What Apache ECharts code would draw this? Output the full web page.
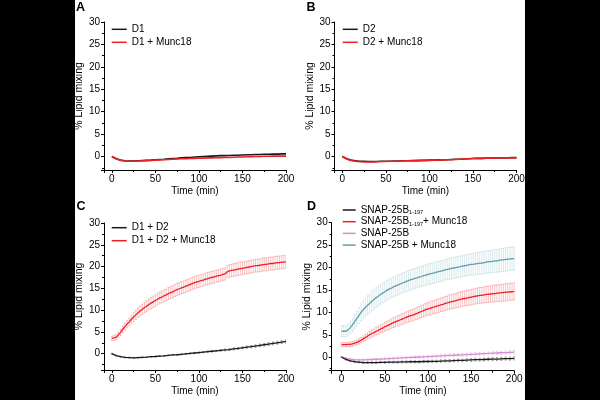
<!DOCTYPE html>
<html><head><meta charset="utf-8">
<script src="https://cdn.jsdelivr.net/npm/echarts@6/dist/echarts.min.js"></script>
<style>html,body{margin:0;padding:0;background:#000;}#c{position:absolute;left:0;top:0;width:600px;height:400px;}</style>
</head><body><div id="c"></div>
<script>
// time points (min)
const t5 = [0,5,10,15,20,25,30,35,40,45,50,55,60,65,70,75,80,85,90,95,100,105,110,115,120,125,130,135,140,145,150,155,160,165,170,175,180,185,190,195,200];
const t25 = [0,2.5,5,7.5,10,12.5,15,17.5,20,22.5,25,27.5,30,32.5,35,37.5,40,42.5,45,47.5,50,52.5,55,57.5,60,62.5,65,67.5,70,72.5,75,77.5,80,82.5,85,87.5,90,92.5,95,97.5,100,102.5,105,107.5,110,112.5,115,117.5,120,122.5,125,127.5,130,132.5,135,137.5,140,142.5,145,147.5,150,152.5,155,157.5,160,162.5,165,167.5,170,172.5,175,177.5,180,182.5,185,187.5,190,192.5,195,197.5,200];

// Panel A
const aD1 = [0,-0.5,-0.8,-0.95,-1.0,-1.0,-0.95,-0.9,-0.85,-0.8,-0.7,-0.65,-0.6,-0.5,-0.45,-0.4,-0.3,-0.25,-0.2,-0.1,-0.05,0,0.05,0.1,0.15,0.2,0.2,0.25,0.3,0.3,0.35,0.4,0.4,0.45,0.45,0.5,0.5,0.55,0.55,0.6,0.6];
const aD1M = [0,-0.5,-0.85,-1.0,-1.05,-1.05,-1.0,-0.95,-0.9,-0.85,-0.8,-0.75,-0.7,-0.65,-0.6,-0.55,-0.5,-0.5,-0.45,-0.4,-0.35,-0.35,-0.3,-0.3,-0.25,-0.25,-0.2,-0.2,-0.15,-0.1,-0.1,-0.05,-0.05,0,0,0.05,0.05,0.1,0.1,0.1,0.1];
// Panel B
const bD2 = [0,-0.5,-0.8,-0.95,-1.05,-1.05,-1.1,-1.1,-1.1,-1.05,-1.05,-1.05,-1.0,-1.0,-0.95,-0.95,-0.9,-0.9,-0.85,-0.85,-0.8,-0.8,-0.75,-0.75,-0.7,-0.65,-0.6,-0.6,-0.55,-0.5,-0.45,-0.4,-0.4,-0.35,-0.35,-0.3,-0.3,-0.3,-0.3,-0.25,-0.25];
const bD2M = [0,-0.55,-0.9,-1.05,-1.15,-1.2,-1.2,-1.2,-1.15,-1.1,-1.1,-1.05,-1.05,-1.0,-1.0,-0.95,-0.95,-0.9,-0.9,-0.85,-0.85,-0.8,-0.8,-0.75,-0.7,-0.7,-0.65,-0.6,-0.55,-0.5,-0.45,-0.4,-0.4,-0.35,-0.35,-0.35,-0.3,-0.3,-0.3,-0.3,-0.3];
// Panel C
const cD1D2 = [0,-0.45,-0.7,-0.85,-0.9,-0.95,-0.9,-0.85,-0.8,-0.7,-0.65,-0.55,-0.5,-0.4,-0.3,-0.25,-0.15,-0.05,0.05,0.15,0.25,0.35,0.45,0.55,0.65,0.75,0.85,0.95,1.1,1.2,1.35,1.5,1.6,1.75,1.9,2.05,2.2,2.35,2.5,2.65,2.8];
const cD1D2Err = [0.1,0.1,0.1,0.1,0.1,0.1,0.1,0.1,0.1,0.1,0.1,0.1,0.1,0.1,0.1,0.1,0.1,0.12,0.12,0.14,0.15,0.16,0.17,0.18,0.19,0.2,0.21,0.22,0.23,0.24,0.25,0.26,0.27,0.28,0.29,0.3,0.31,0.32,0.33,0.34,0.35];
const cD1D2M = [3.5,3.6,3.8,4.3,4.9,5.6,6.2,6.8,7.3,7.9,8.4,8.9,9.4,9.8,10.2,10.6,10.9,11.3,11.6,11.9,12.2,12.5,12.8,13.0,13.3,13.5,13.8,14.0,14.2,14.5,14.7,14.9,15.1,15.3,15.5,15.7,15.9,16.1,16.3,16.5,16.6,16.8,16.9,17.1,17.2,17.4,17.5,17.6,17.8,17.9,18.0,18.2,18.3,18.8,19.0,19.1,19.2,19.3,19.4,19.5,19.6,19.7,19.8,19.9,20.0,20.1,20.2,20.2,20.3,20.4,20.5,20.5,20.6,20.7,20.7,20.8,20.9,20.9,21.0,21.0,21.1];
const cD1D2MErr = [0.5,0.55,0.6,0.65,0.7,0.75,0.8,0.85,0.9,0.95,1.0,1.05,1.1,1.15,1.2,1.2,1.25,1.25,1.3,1.3,1.3,1.3,1.35,1.35,1.35,1.35,1.4,1.4,1.4,1.4,1.4,1.4,1.4,1.4,1.4,1.4,1.4,1.4,1.4,1.4,1.4,1.4,1.4,1.4,1.4,1.4,1.4,1.4,1.4,1.4,1.4,1.4,1.4,1.4,1.45,1.45,1.45,1.45,1.45,1.45,1.45,1.45,1.45,1.45,1.45,1.45,1.45,1.45,1.45,1.45,1.5,1.5,1.5,1.5,1.5,1.5,1.5,1.5,1.5,1.5,1.5];
// Panel D
const dS197 = [0,-0.5,-0.8,-1.0,-1.1,-1.2,-1.2,-1.2,-1.2,-1.15,-1.15,-1.1,-1.1,-1.1,-1.05,-1.05,-1.0,-1.0,-1.0,-0.95,-0.95,-0.9,-0.9,-0.85,-0.8,-0.8,-0.75,-0.7,-0.7,-0.65,-0.6,-0.55,-0.55,-0.5,-0.45,-0.4,-0.4,-0.35,-0.3,-0.3,-0.25];
const dS197Err = [0.1,0.12,0.14,0.15,0.16,0.17,0.18,0.18,0.19,0.2,0.2,0.21,0.22,0.22,0.23,0.24,0.24,0.25,0.25,0.26,0.26,0.27,0.27,0.28,0.28,0.29,0.29,0.3,0.3,0.31,0.31,0.32,0.32,0.33,0.33,0.34,0.34,0.35,0.35,0.35,0.35];
const dS197M = [2.8,2.8,2.8,2.85,2.9,3.0,3.15,3.3,3.55,3.8,4.1,4.4,4.7,5.0,5.3,5.5,5.8,6.0,6.3,6.5,6.8,7.0,7.2,7.5,7.7,7.9,8.1,8.3,8.5,8.7,8.9,9.1,9.3,9.4,9.6,9.8,10.0,10.2,10.4,10.6,10.8,10.9,11.1,11.2,11.4,11.5,11.7,11.8,12.0,12.1,12.3,12.4,12.5,12.6,12.8,12.9,13.0,13.1,13.2,13.3,13.4,13.5,13.6,13.7,13.8,13.8,13.9,14.0,14.0,14.1,14.2,14.2,14.3,14.3,14.4,14.4,14.5,14.5,14.6,14.6,14.7];
const dS197MErr = [0.45,0.45,0.45,0.45,0.5,0.5,0.5,0.55,0.6,0.6,0.65,0.7,0.7,0.75,0.8,0.8,0.85,0.9,0.9,0.95,1.0,1.0,1.05,1.05,1.1,1.1,1.15,1.15,1.2,1.2,1.25,1.25,1.3,1.3,1.3,1.35,1.35,1.35,1.4,1.4,1.4,1.45,1.45,1.45,1.5,1.5,1.5,1.55,1.55,1.55,1.6,1.6,1.6,1.6,1.65,1.65,1.65,1.65,1.7,1.7,1.7,1.7,1.75,1.75,1.75,1.75,1.8,1.8,1.8,1.8,1.85,1.85,1.85,1.85,1.9,1.9,1.9,1.9,1.9,1.9,1.9];
const dS25B = [0.1,-0.2,-0.4,-0.55,-0.6,-0.6,-0.55,-0.5,-0.45,-0.4,-0.35,-0.3,-0.25,-0.2,-0.15,-0.1,-0.05,0,0.05,0.1,0.15,0.2,0.25,0.3,0.35,0.4,0.45,0.5,0.55,0.6,0.65,0.7,0.75,0.8,0.85,0.9,0.95,1.0,1.05,1.1,1.15];
const dS25BErr = [0.15,0.15,0.15,0.16,0.17,0.18,0.19,0.2,0.2,0.21,0.22,0.22,0.23,0.24,0.24,0.25,0.26,0.26,0.27,0.27,0.28,0.28,0.29,0.29,0.3,0.3,0.31,0.31,0.32,0.32,0.33,0.33,0.33,0.34,0.34,0.34,0.35,0.35,0.35,0.35,0.35];
const dS25BM = [5.8,5.8,5.8,6.1,6.6,7.2,7.9,8.6,9.3,10.0,10.6,11.1,11.6,12.0,12.5,12.9,13.3,13.6,14.0,14.3,14.6,14.9,15.2,15.4,15.7,15.9,16.1,16.3,16.5,16.7,16.9,17.1,17.3,17.4,17.6,17.7,17.9,18.0,18.2,18.3,18.5,18.6,18.7,18.8,19.0,19.1,19.2,19.3,19.5,19.6,19.7,19.8,19.9,20.0,20.1,20.2,20.3,20.4,20.5,20.6,20.7,20.7,20.8,20.9,21.0,21.0,21.1,21.2,21.3,21.3,21.4,21.5,21.5,21.6,21.7,21.7,21.8,21.9,21.9,22.0,22.0];
const dS25BMErr = [1.2,1.2,1.2,1.3,1.4,1.5,1.6,1.7,1.8,1.9,2.0,2.0,2.1,2.1,2.2,2.2,2.2,2.2,2.2,2.2,2.2,2.2,2.2,2.2,2.2,2.2,2.2,2.2,2.2,2.2,2.25,2.25,2.25,2.25,2.25,2.25,2.25,2.25,2.25,2.25,2.3,2.3,2.3,2.3,2.3,2.3,2.3,2.3,2.3,2.3,2.35,2.35,2.35,2.35,2.35,2.35,2.35,2.35,2.35,2.35,2.4,2.4,2.45,2.45,2.45,2.5,2.5,2.5,2.5,2.5,2.55,2.55,2.55,2.55,2.6,2.6,2.6,2.6,2.6,2.6,2.6];

// tick labels
const xTicks = [0,50,100,150,200];
const yTicks = [0,5,10,15,20,25,30];

const FONT = 'Liberation Sans, Arial, sans-serif';
const RED = '#ee1f25', BLACK = '#1a1a1a', TEAL = '#5f9fae', PINK = '#d98bd3';

const chart = echarts.init(document.getElementById('c'), null, {renderer: 'canvas'});

const grids = [
  {left: 104, top: 22, width: 182, height: 148},
  {left: 334.5, top: 22, width: 182, height: 148},
  {left: 104, top: 223, width: 182, height: 147},
  {left: 331.7, top: 222.7, width: 182.5, height: 148}
];
const xMins = [-9, -9, -9, -11.5];
const yMins = [-3, -3, -3.75, -3];
const yNameGaps = [18.5, 19, 18.5, 17];

function xAxis(i) {
  return {
    type: 'value', gridIndex: i, min: xMins[i], max: 200, splitNumber: 4,
    name: 'Time (min)', nameLocation: 'middle', nameGap: 16,
    nameTextStyle: {fontFamily: FONT, fontSize: 10, color: '#000'},
    axisLine: {show: true, onZero: false, lineStyle: {color: '#000', width: 1}},
    axisTick: {show: true, length: 3, lineStyle: {color: '#000'}},
    minorTick: {show: true, splitNumber: 2, length: 2, lineStyle: {color: '#000'}},
    axisLabel: {fontFamily: FONT, fontSize: 10, color: '#000', margin: 4,
      formatter: v => xTicks.includes(v) ? String(v) : ''},
    splitLine: {show: false}, minorSplitLine: {show: false}
  };
}
function yAxis(i) {
  return {
    type: 'value', gridIndex: i, min: yMins[i], max: 30, splitNumber: 7,
    name: '% Lipid mixing', nameLocation: 'middle', nameGap: yNameGaps[i],
    nameTextStyle: {fontFamily: FONT, fontSize: 10.5, color: '#000'},
    axisLine: {show: true, onZero: false, lineStyle: {color: '#000', width: 1}},
    axisTick: {show: true, length: 3, lineStyle: {color: '#000'}},
    minorTick: {show: true, splitNumber: 2, length: 2, lineStyle: {color: '#000'}},
    axisLabel: {fontFamily: FONT, fontSize: 10, color: '#000', margin: 4,
      formatter: v => yTicks.includes(v) ? String(v) : ''},
    splitLine: {show: false}, minorSplitLine: {show: false}
  };
}

function line(name, xs, ys, color, gi, z, w) {
  return {
    type: 'line', name: name, xAxisIndex: gi, yAxisIndex: gi,
    data: xs.map((x, k) => [x, ys[k]]),
    showSymbol: false, symbol: 'none', smooth: false,
    lineStyle: {width: w || 1.3, color: color}, itemStyle: {color: color},
    animation: false, z: z || 4, silent: true
  };
}
function errBars(xs, ys, es, color, gi, capW, lw) {
  return {
    type: 'custom', xAxisIndex: gi, yAxisIndex: gi, animation: false, silent: true, z: 2,
    data: xs.map((x, k) => [x, ys[k], es[k]]),
    encode: {x: 0, y: 1},
    clip: true,
    renderItem: function (params, api) {
      const x = api.value(0), m = api.value(1), e = api.value(2);
      const hi = api.coord([x, m + e]);
      const lo = api.coord([x, m - e]);
      const st = {stroke: color, lineWidth: lw};
      return {type: 'group', children: [
        {type: 'line', shape: {x1: hi[0], y1: hi[1], x2: lo[0], y2: lo[1]}, style: st},
        {type: 'line', shape: {x1: hi[0] - capW, y1: hi[1], x2: hi[0] + capW, y2: hi[1]}, style: st},
        {type: 'line', shape: {x1: lo[0] - capW, y1: lo[1], x2: lo[0] + capW, y2: lo[1]}, style: st}
      ]};
    }
  };
}

const sub = {fontFamily: FONT, fontSize: 5.5, color: '#000', verticalAlign: 'bottom', lineHeight: 11, padding: [4, 0, 0, 0]};
const nm = {fontFamily: FONT, fontSize: 10, color: '#000', lineHeight: 11};

const legendBase = {
  orient: 'vertical', padding: 0, itemGap: 2, itemWidth: 15, itemHeight: 1.5, icon: 'rect',
  selectedMode: false,
  textStyle: {fontFamily: FONT, fontSize: 10, color: '#000', lineHeight: 11}
};

const option = {
  backgroundColor: '#000',
  animation: false,
  graphic: [{type: 'rect', shape: {x: 75, y: 0, width: 450, height: 400}, style: {fill: '#fff'}, z: -10, silent: true}],
  title: [
    {text: 'A', left: 76, top: 1, padding: 0, textStyle: {fontFamily: FONT, fontSize: 12.5, fontWeight: 'bold', color: '#000'}},
    {text: 'B', left: 306.5, top: 1, padding: 0, textStyle: {fontFamily: FONT, fontSize: 12.5, fontWeight: 'bold', color: '#000'}},
    {text: 'C', left: 76.5, top: 200, padding: 0, textStyle: {fontFamily: FONT, fontSize: 12.5, fontWeight: 'bold', color: '#000'}},
    {text: 'D', left: 307, top: 200.5, padding: 0, textStyle: {fontFamily: FONT, fontSize: 12.5, fontWeight: 'bold', color: '#000'}}
  ],
  grid: grids,
  xAxis: [0, 1, 2, 3].map(xAxis),
  yAxis: [0, 1, 2, 3].map(yAxis),
  legend: [
    Object.assign({}, legendBase, {left: 111.7, top: 23.8, data: ['D1', 'D1 + Munc18']}),
    Object.assign({}, legendBase, {left: 342.7, top: 23.8, data: ['D2', 'D2 + Munc18']}),
    Object.assign({}, legendBase, {left: 111.7, top: 222.2, data: ['D1 + D2', 'D1 + D2 + Munc18']}),
    Object.assign({}, legendBase, {left: 342.7, top: 204.5, itemGap: 0.7, itemWidth: 13,
      data: ['SNAP-25B1-197', 'SNAP-25B1-197 + Munc18', 'SNAP-25B', 'SNAP-25B + Munc18'],
      formatter: function (n) {
        if (n === 'SNAP-25B1-197') return '{a|SNAP-25B}{s|1-197}';
        if (n === 'SNAP-25B1-197 + Munc18') return '{a|SNAP-25B}{s|1-197}{a|+ Munc18}';
        return '{a|' + n + '}';
      },
      textStyle: {fontFamily: FONT, fontSize: 10, color: '#000', lineHeight: 11, rich: {a: nm, s: sub}}
    })
  ],
  series: [
    line('D1', t5, aD1, BLACK, 0, 4, 1.6),
    line('D1 + Munc18', t5, aD1M, RED, 0, 5, 1.6),
    line('D2', t5, bD2, BLACK, 1, 4, 1.6),
    line('D2 + Munc18', t5, bD2M, RED, 1, 5, 1.6),
    errBars(t5, cD1D2, cD1D2Err, '#666', 2, 1, 0.6),
    line('D1 + D2', t5, cD1D2, BLACK, 2, 4),
    errBars(t25, cD1D2M, cD1D2MErr, 'rgba(240,70,75,0.55)', 2, 1.1, 0.6),
    line('D1 + D2 + Munc18', t25, cD1D2M, RED, 2, 5),
    errBars(t25, dS25BM, dS25BMErr, 'rgba(120,175,188,0.45)', 3, 1.1, 0.6),
    errBars(t25, dS197M, dS197MErr, 'rgba(240,70,75,0.55)', 3, 1.1, 0.6),
    errBars(t5, dS25B, dS25BErr, 'rgba(220,150,215,0.7)', 3, 1, 0.6),
    errBars(t5, dS197, dS197Err, '#777', 3, 1, 0.6),
    line('SNAP-25B', t5, dS25B, PINK, 3, 4),
    line('SNAP-25B1-197', t5, dS197, BLACK, 3, 5),
    line('SNAP-25B1-197 + Munc18', t25, dS197M, RED, 3, 5),
    line('SNAP-25B + Munc18', t25, dS25BM, TEAL, 3, 5)
  ]
};
chart.setOption(option);
</script>
</body></html>
